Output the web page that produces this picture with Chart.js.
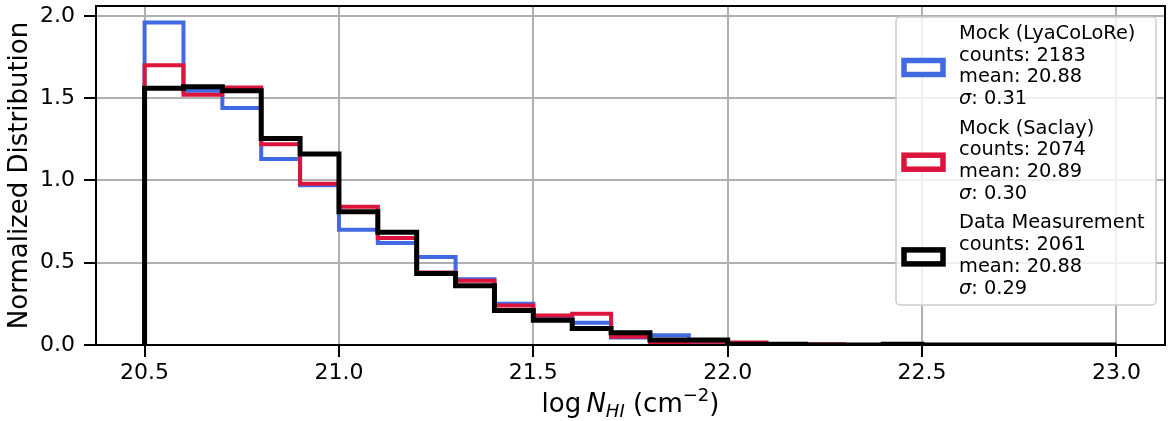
<!DOCTYPE html>
<html>
<head>
<meta charset="utf-8">
<script src="https://cdn.jsdelivr.net/npm/chart.js@4.4.0/dist/chart.umd.min.js"></script>
<style>
  html, body { margin: 0; padding: 0; background: #fff; }
  #wrap { width: 1171px; height: 421px; }
</style>
</head>
<body>
<div id="wrap"><canvas id="histChart" width="1171" height="421"></canvas></div>
<script>
// bin edges of the histogram (log NHI)
const binEdges = [20.5, 20.6, 20.7, 20.8, 20.9, 21.0, 21.1, 21.2, 21.3, 21.4, 21.5, 21.6, 21.7,
                  21.8, 21.9, 22.0, 22.1, 22.2, 22.3, 22.4, 22.5, 22.6, 22.7, 22.8, 22.9, 23.0];

// normalized counts per bin
const mockLyaColore = [1.96, 1.545, 1.44, 1.13, 0.97, 0.70, 0.62, 0.535, 0.40, 0.25, 0.175, 0.135, 0.045,
                       0.06, 0.02, 0.005, 0.005, 0, 0, 0, 0, 0, 0, 0, 0];
const mockSaclay = [1.70, 1.52, 1.565, 1.22, 0.98, 0.84, 0.65, 0.44, 0.39, 0.24, 0.18, 0.19, 0.05,
                    0.01, 0.02, 0.015, 0.005, 0.005, 0, 0, 0, 0, 0, 0, 0];
const dataMeasurement = [1.56, 1.57, 1.545, 1.255, 1.16, 0.81, 0.685, 0.435, 0.36, 0.21, 0.15, 0.10, 0.075,
                         0.03, 0.03, 0.005, 0.005, 0, 0, 0.005, 0, 0, 0, 0, 0];

const xTicks = [20.5, 21.0, 21.5, 22.0, 22.5, 23.0];
const yTicks = [0, 0.5, 1.0, 1.5, 2.0];

const seriesNames = ['Mock (LyaCoLoRe)', 'Mock (Saclay)', 'Data Measurement'];
const seriesCounts = ['2183', '2074', '2061'];
const seriesMeans = ['20.88', '20.89', '20.88'];
const seriesSigmas = ['0.31', '0.30', '0.29'];
const seriesColors = ['#4169E1', '#DC143C', '#000000'];

const FONT = '"DejaVu Sans", "Liberation Sans", sans-serif';

// turn bin values into the vertices of a step outline
function stepPoints(values) {
    const pts = [{ x: binEdges[0], y: 0 }];
    values.forEach(function (v, i) {
        pts.push({ x: binEdges[i], y: v });
    });
    pts.push({ x: binEdges[binEdges.length - 1], y: 0 });
    return pts;
}

const framePlugin = {
    id: 'frame',
    afterDatasetsDraw(chart) {
        const a = chart.chartArea;
        const ctx = chart.ctx;
        ctx.save();
        ctx.strokeStyle = '#000';
        ctx.lineWidth = 2;
        ctx.strokeRect(a.left, a.top, a.right - a.left, a.bottom - a.top);
        ctx.restore();
    }
};

const xTitlePlugin = {
    id: 'xTitle',
    afterDraw(chart) {
        const ctx = chart.ctx;
        const a = chart.chartArea;
        const parts = [
            { t: 'log', f: '26px ' + FONT, dy: 0 },
            { t: '\u2009', f: '26px ' + FONT, dy: 0 },
            { t: 'N', f: 'italic 26px ' + FONT, dy: 0 },
            { t: 'HI', f: 'italic 18px ' + FONT, dy: 5 },
            { t: ' (cm', f: '26px ' + FONT, dy: 0 },
            { t: '\u22122', f: '18px ' + FONT, dy: -11 },
            { t: ')', f: '26px ' + FONT, dy: 0 }
        ];
        ctx.save();
        ctx.fillStyle = '#000';
        ctx.textBaseline = 'alphabetic';
        let total = 0;
        parts.forEach(function (p) { ctx.font = p.f; p.w = ctx.measureText(p.t).width; total += p.w; });
        let x = (a.left + a.right) / 2 - total / 2;
        const base = 412;
        parts.forEach(function (p) {
            ctx.font = p.f;
            ctx.fillText(p.t, x, base + p.dy);
            x += p.w;
        });
        ctx.restore();
    }
};

const legendPlugin = {
    id: 'boxLegend',
    afterDraw(chart) {
        const ctx = chart.ctx;
        const a = chart.chartArea;
        const w = 260, h = 288;
        const left = a.right - 9 - w;
        const top = a.top + 11;
        ctx.save();
        // legend frame
        ctx.beginPath();
        ctx.roundRect(left, top, w, h, 4);
        ctx.fillStyle = 'rgba(255,255,255,0.8)';
        ctx.fill();
        ctx.strokeStyle = '#cccccc';
        ctx.lineWidth = 1.5;
        ctx.stroke();

        const lineH = 21.7;
        const entryH = 94.7;
        ctx.textBaseline = 'alphabetic';
        for (let i = 0; i < seriesNames.length; i++) {
            const base = top + 22 + i * entryH;
            // handle
            ctx.strokeStyle = seriesColors[i];
            ctx.lineWidth = 5.5;
            ctx.fillStyle = '#fff';
            const hy = base + 28.5;
            ctx.fillRect(left + 8, hy - 7, 39, 14);
            ctx.strokeRect(left + 8, hy - 7, 39, 14);
            // text
            const tx = left + 63;
            ctx.fillStyle = '#000';
            ctx.font = '19.4px ' + FONT;
            ctx.fillText(seriesNames[i], tx, base);
            ctx.fillText('counts: ' + seriesCounts[i], tx, base + lineH);
            ctx.fillText('mean: ' + seriesMeans[i], tx, base + 2 * lineH);
            ctx.font = 'italic 19.4px ' + FONT;
            ctx.fillText('\u03c3', tx, base + 3 * lineH);
            const sw = ctx.measureText('\u03c3').width;
            ctx.font = '19.4px ' + FONT;
            ctx.fillText(': ' + seriesSigmas[i], tx + sw, base + 3 * lineH);
        }
        ctx.restore();
    }
};

document.addEventListener('DOMContentLoaded', function () {
    const ctx = document.getElementById('histChart').getContext('2d');
    const allSeries = [mockLyaColore, mockSaclay, dataMeasurement];
    const widths = [4, 4, 5];
    const orders = [3, 2, 1]; // black drawn on top
    const histChart = new Chart(ctx, {
        type: 'line',
        data: {
            datasets: allSeries.map(function (vals, i) {
                return {
                    label: seriesNames[i],
                    data: stepPoints(vals),
                    borderColor: seriesColors[i],
                    borderWidth: widths[i],
                    stepped: 'before',
                    fill: false,
                    pointRadius: 0,
                    borderJoinStyle: 'miter',
                    borderCapStyle: 'butt',
                    order: orders[i]
                };
            })
        },
        options: {
            responsive: false,
            animation: false,
            layout: { padding: { left: 0, right: 6, top: 6, bottom: 0 } },
            plugins: {
                legend: { display: false },
                tooltip: { enabled: false }
            },
            scales: {
                x: {
                    type: 'linear',
                    min: 20.375,
                    max: 23.125,
                    afterBuildTicks: function (scale) {
                        scale.ticks = xTicks.map(function (v) { return { value: v }; });
                    },
                    afterFit: function (scale) {
                        scale.height = 76;
                    },
                    ticks: {
                        autoSkip: false,
                        maxRotation: 0,
                        padding: 3,
                        color: '#000',
                        font: { family: FONT, size: 22 },
                        callback: function (v) { return Number(v).toFixed(1); }
                    },
                    grid: { color: '#b0b0b0', lineWidth: 2, tickLength: 12, tickColor: '#000', tickWidth: 2 },
                    border: { color: '#000', width: 2 }
                },
                y: {
                    min: 0,
                    max: 2.06,
                    afterBuildTicks: function (scale) {
                        scale.ticks = yTicks.map(function (v) { return { value: v }; });
                    },
                    afterFit: function (scale) {
                        scale.width = 96;
                        scale.paddingTop = 0;
                        scale.paddingBottom = 0;
                    },
                    ticks: {
                        autoSkip: false,
                        padding: 9,
                        color: '#000',
                        font: { family: FONT, size: 22 },
                        callback: function (v) { return Number(v).toFixed(1); }
                    },
                    title: {
                        display: true,
                        text: 'Normalized Distribution',
                        color: '#000',
                        font: { family: FONT, size: 26 },
                        padding: { top: 5, bottom: 0 }
                    },
                    grid: { color: '#b0b0b0', lineWidth: 2, tickLength: 12, tickColor: '#000', tickWidth: 2 },
                    border: { color: '#000', width: 2 }
                }
            }
        },
        plugins: [framePlugin, legendPlugin, xTitlePlugin]
    });
});
</script>
</body>
</html>
